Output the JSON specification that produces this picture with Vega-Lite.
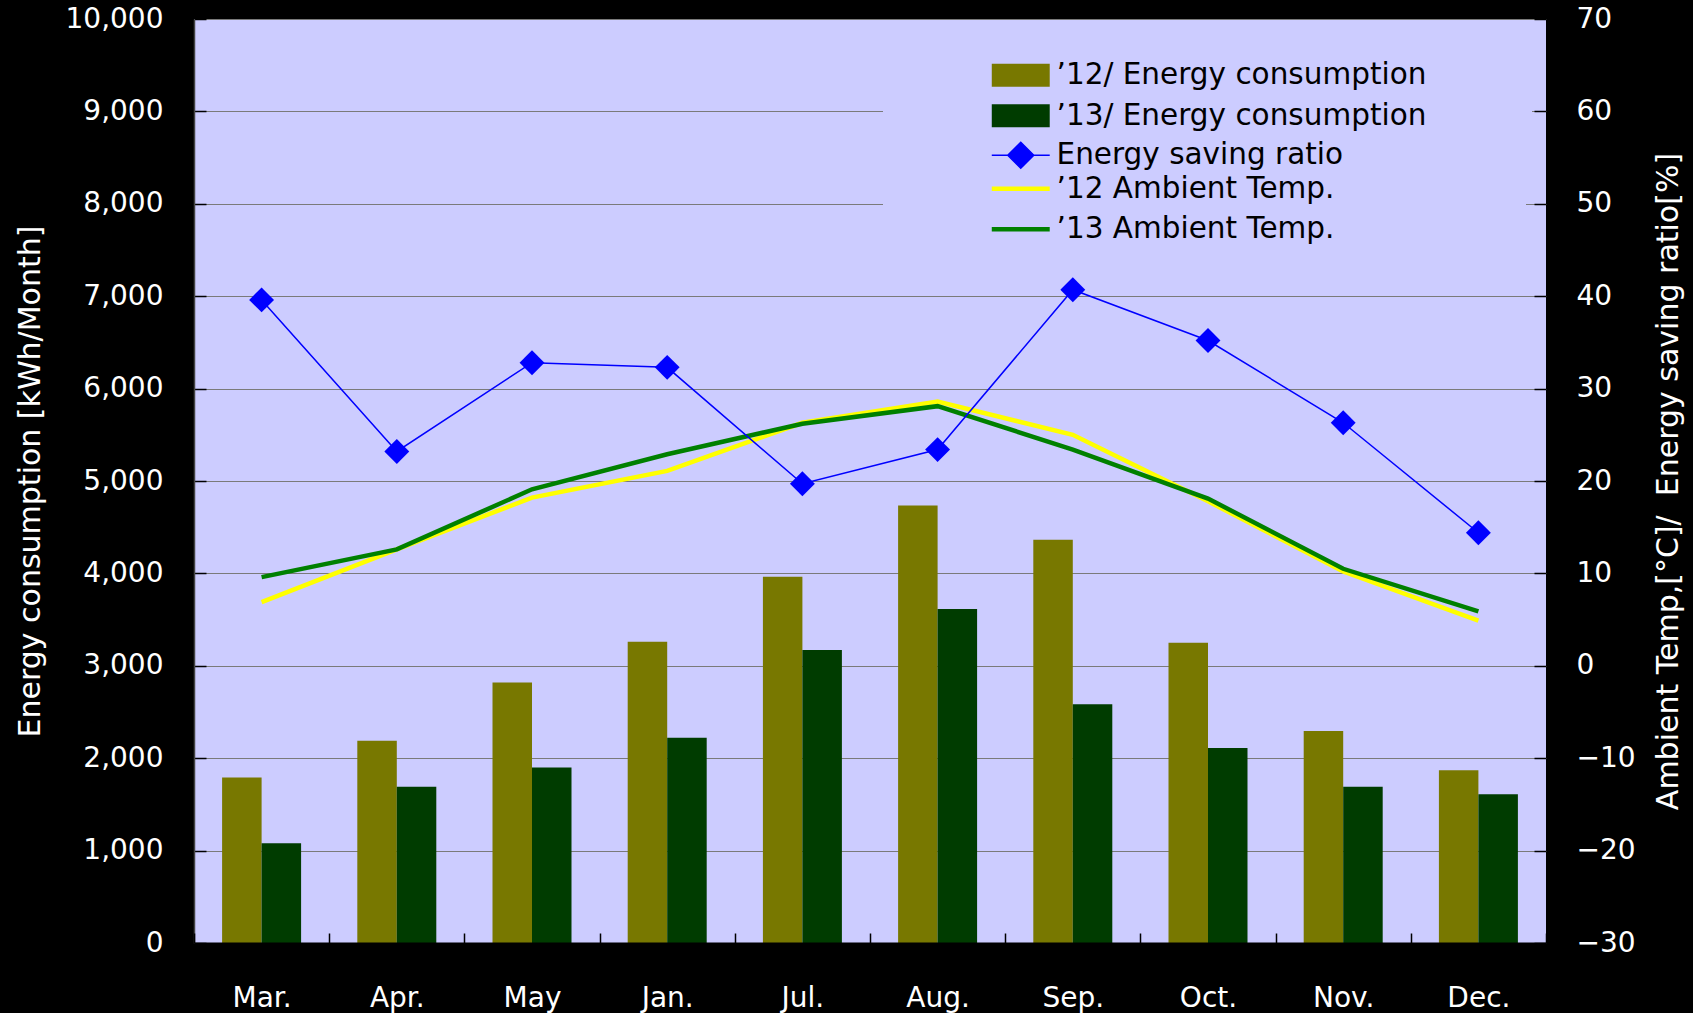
{
  "$schema": "https://vega.github.io/schema/vega-lite/v6.json",
  "width": 1352,
  "height": 924,
  "autosize": {"type": "none"},
  "padding": {"left": 194, "top": 19, "right": 147, "bottom": 70},
  "background": "#000000",
  "config": {
    "view": {"fill": "#CCCCFF", "stroke": null},
    "font": "DejaVu Sans",
    "axis": {"labelColor": "#FFFFFF", "titleColor": "#FFFFFF", "labelFontSize": 28, "titleFontSize": 30, "titleFontWeight": "normal", "tickColor": "#000000", "domainColor": "#000000", "labelFont": "DejaVu Sans", "titleFont": "DejaVu Sans"},
    "legend": {"labelFont": "DejaVu Sans", "labelFontSize": 29.5, "labelColor": "#000000", "labelLimit": 900, "symbolSize": 529, "padding": 4, "symbolOffset": 119, "labelOffset": 21, "rowPadding": 9.6, "orient": "none", "legendX": 689, "symbolOpacity": 1, "titleOrient": "right", "titleColor": "#CCCCFF", "titleFont": "DejaVu Sans", "titleFontSize": 10, "titleFontWeight": "normal", "titlePadding": 5}
  },
  "datasets": {
    "bars": [
      {"month": "Mar.", "series": "’12/ Energy consumption", "value": 1790},
      {"month": "Mar.", "series": "’13/ Energy consumption", "value": 1080},
      {"month": "Apr.", "series": "’12/ Energy consumption", "value": 2190},
      {"month": "Apr.", "series": "’13/ Energy consumption", "value": 1690},
      {"month": "May", "series": "’12/ Energy consumption", "value": 2820},
      {"month": "May", "series": "’13/ Energy consumption", "value": 1900},
      {"month": "Jan.", "series": "’12/ Energy consumption", "value": 3260},
      {"month": "Jan.", "series": "’13/ Energy consumption", "value": 2220},
      {"month": "Jul.", "series": "’12/ Energy consumption", "value": 3965},
      {"month": "Jul.", "series": "’13/ Energy consumption", "value": 3170},
      {"month": "Aug.", "series": "’12/ Energy consumption", "value": 4735},
      {"month": "Aug.", "series": "’13/ Energy consumption", "value": 3615},
      {"month": "Sep.", "series": "’12/ Energy consumption", "value": 4365},
      {"month": "Sep.", "series": "’13/ Energy consumption", "value": 2585},
      {"month": "Oct.", "series": "’12/ Energy consumption", "value": 3250},
      {"month": "Oct.", "series": "’13/ Energy consumption", "value": 2110},
      {"month": "Nov.", "series": "’12/ Energy consumption", "value": 2295},
      {"month": "Nov.", "series": "’13/ Energy consumption", "value": 1690},
      {"month": "Dec.", "series": "’12/ Energy consumption", "value": 1870},
      {"month": "Dec.", "series": "’13/ Energy consumption", "value": 1610}
    ],
    "temps": [
      {"month": "Mar.", "series": "’12 Ambient Temp.", "value": 6.9},
      {"month": "Apr.", "series": "’12 Ambient Temp.", "value": 12.6},
      {"month": "May", "series": "’12 Ambient Temp.", "value": 18.2},
      {"month": "Jan.", "series": "’12 Ambient Temp.", "value": 21.1},
      {"month": "Jul.", "series": "’12 Ambient Temp.", "value": 26.3},
      {"month": "Aug.", "series": "’12 Ambient Temp.", "value": 28.6},
      {"month": "Sep.", "series": "’12 Ambient Temp.", "value": 25.0},
      {"month": "Oct.", "series": "’12 Ambient Temp.", "value": 17.8},
      {"month": "Nov.", "series": "’12 Ambient Temp.", "value": 10.2},
      {"month": "Dec.", "series": "’12 Ambient Temp.", "value": 4.9},
      {"month": "Mar.", "series": "’13 Ambient Temp.", "value": 9.6},
      {"month": "Apr.", "series": "’13 Ambient Temp.", "value": 12.6},
      {"month": "May", "series": "’13 Ambient Temp.", "value": 19.1},
      {"month": "Jan.", "series": "’13 Ambient Temp.", "value": 22.9},
      {"month": "Jul.", "series": "’13 Ambient Temp.", "value": 26.2},
      {"month": "Aug.", "series": "’13 Ambient Temp.", "value": 28.1},
      {"month": "Sep.", "series": "’13 Ambient Temp.", "value": 23.4},
      {"month": "Oct.", "series": "’13 Ambient Temp.", "value": 18.1},
      {"month": "Nov.", "series": "’13 Ambient Temp.", "value": 10.5},
      {"month": "Dec.", "series": "’13 Ambient Temp.", "value": 5.9}
    ],
    "ratio": [
      {"month": "Mar.", "series": "Energy saving ratio", "value": 39.6},
      {"month": "Apr.", "series": "Energy saving ratio", "value": 23.2},
      {"month": "May", "series": "Energy saving ratio", "value": 32.8},
      {"month": "Jan.", "series": "Energy saving ratio", "value": 32.3},
      {"month": "Jul.", "series": "Energy saving ratio", "value": 19.7},
      {"month": "Aug.", "series": "Energy saving ratio", "value": 23.4},
      {"month": "Sep.", "series": "Energy saving ratio", "value": 40.7},
      {"month": "Oct.", "series": "Energy saving ratio", "value": 35.2},
      {"month": "Nov.", "series": "Energy saving ratio", "value": 26.3},
      {"month": "Dec.", "series": "Energy saving ratio", "value": 14.4}
    ]
  },
  "encoding": {
    "x": {
      "field": "month",
      "type": "nominal",
      "sort": ["Mar.", "Apr.", "May", "Jan.", "Jul.", "Aug.", "Sep.", "Oct.", "Nov.", "Dec."],
      "scale": {"paddingInner": 0, "paddingOuter": 0},
      "axis": {
        "title": null,
        "labelAngle": 0,
        "labelFontSize": 28,
        "labelBaseline": "alphabetic",
        "labelPadding": 73,
        "tickBand": "extent",
        "tickSize": -10,
        "tickWidth": 1.5,
        "tickColor": "#000000",
        "domainColor": "#000000",
        "domainWidth": 2,
        "grid": false,
        "zindex": 1
      }
    }
  },
  "layer": [
    {
      "data": {"name": "bars"},
      "mark": {"type": "bar"},
      "encoding": {
        "xOffset": {"field": "series", "type": "nominal", "sort": ["’12/ Energy consumption", "’13/ Energy consumption"], "scale": {"paddingInner": 0, "paddingOuter": 0.7115}},
        "y": {
          "field": "value",
          "type": "quantitative",
          "scale": {"domain": [0, 10000], "nice": false},
          "axis": {
            "values": [0, 1000, 2000, 3000, 4000, 5000, 6000, 7000, 8000, 9000, 10000],
            "format": ",.0f",
            "grid": true,
            "gridColor": "#7A7A7A",
            "gridWidth": 1,
            "tickSize": -12,
            "tickWidth": 1.5,
            "labelPadding": 43,
            "labelFlush": false,
            "labelOverlap": false,
            "domainColor": "#444444",
            "domainWidth": 1.5,
            "title": "Energy consumption [kWh/Month]",
            "titleAngle": 270,
            "titleX": -164,
            "titleY": 462,
            "titleAlign": "center",
            "titleBaseline": "middle"
          }
        },
        "fill": {
          "field": "series",
          "type": "nominal",
          "scale": {"domain": ["’12/ Energy consumption", "’13/ Energy consumption"], "range": ["#787800", "#003C00"]},
          "legend": {
            "title": "MMMMMMMMMMMMMMMMMMMMMMMMMMMMMM",
            "titleLimit": 98,
            "legendY": 37.5,
            "fillColor": "#CCCCFF",
            "symbolType": "M-2.52,-1H2.52V1H-2.52Z",
            "symbolStrokeWidth": 0
          }
        }
      }
    },
    {
      "encoding": {
        "y": {
          "field": "value",
          "type": "quantitative",
          "scale": {"domain": [-30, 70], "nice": false, "zero": false},
          "axis": {
            "orient": "right",
            "values": [-30, -20, -10, 0, 10, 20, 30, 40, 50, 60, 70],
            "grid": false,
            "tickSize": -12,
            "tickWidth": 1.5,
            "labelPadding": 42,
            "labelFlush": false,
            "labelOverlap": false,
            "domain": false,
            "title": "Ambient Temp,[°C]/\u00a0 Energy saving ratio[%]",
            "titleAngle": 270,
            "titleX": 122,
            "titleY": 462,
            "titleAlign": "center",
            "titleBaseline": "middle"
          }
        }
      },
      "layer": [
        {
          "data": {"name": "temps"},
          "mark": {"type": "line", "strokeWidth": 4.5},
          "encoding": {
            "stroke": {
              "field": "series",
              "type": "nominal",
              "scale": {"domain": ["’12 Ambient Temp.", "’13 Ambient Temp."], "range": ["#FFFF00", "#008000"]},
              "legend": {
                "title": "MMMMMMMMMMMMMMMMMMMMMMMMMMMMMM",
                "titleLimit": 190,
                "legendY": 151,
                "fillColor": "#CCCCFF",
                "symbolType": "M-2.52,0H2.52",
                "symbolStrokeWidth": 4.5
              }
            }
          }
        },
        {
          "data": {"name": "ratio"},
          "mark": {"type": "line", "strokeWidth": 1.5},
          "encoding": {
            "color": {
              "field": "series",
              "type": "nominal",
              "scale": {"domain": ["Energy saving ratio"], "range": ["#0000FF"]},
              "legend": {
                "title": null,
                "legendY": 117.5,
                "symbolType": "M-2.52,0H2.52M0,-1.13L1.13,0L0,1.13L-1.13,0Z",
                "symbolStrokeWidth": 1.5,
                "symbolFillColor": "#0000FF",
                "symbolStrokeColor": "#0000FF"
              }
            }
          }
        },
        {
          "data": {"name": "ratio"},
          "mark": {"type": "point", "shape": "diamond", "filled": true, "size": 620, "opacity": 1},
          "encoding": {
            "color": {
              "field": "series",
              "type": "nominal",
              "scale": {"domain": ["Energy saving ratio"], "range": ["#0000FF"]}
            }
          }
        }
      ]
    }
  ],
  "resolve": {"scale": {"y": "independent"}}
}
